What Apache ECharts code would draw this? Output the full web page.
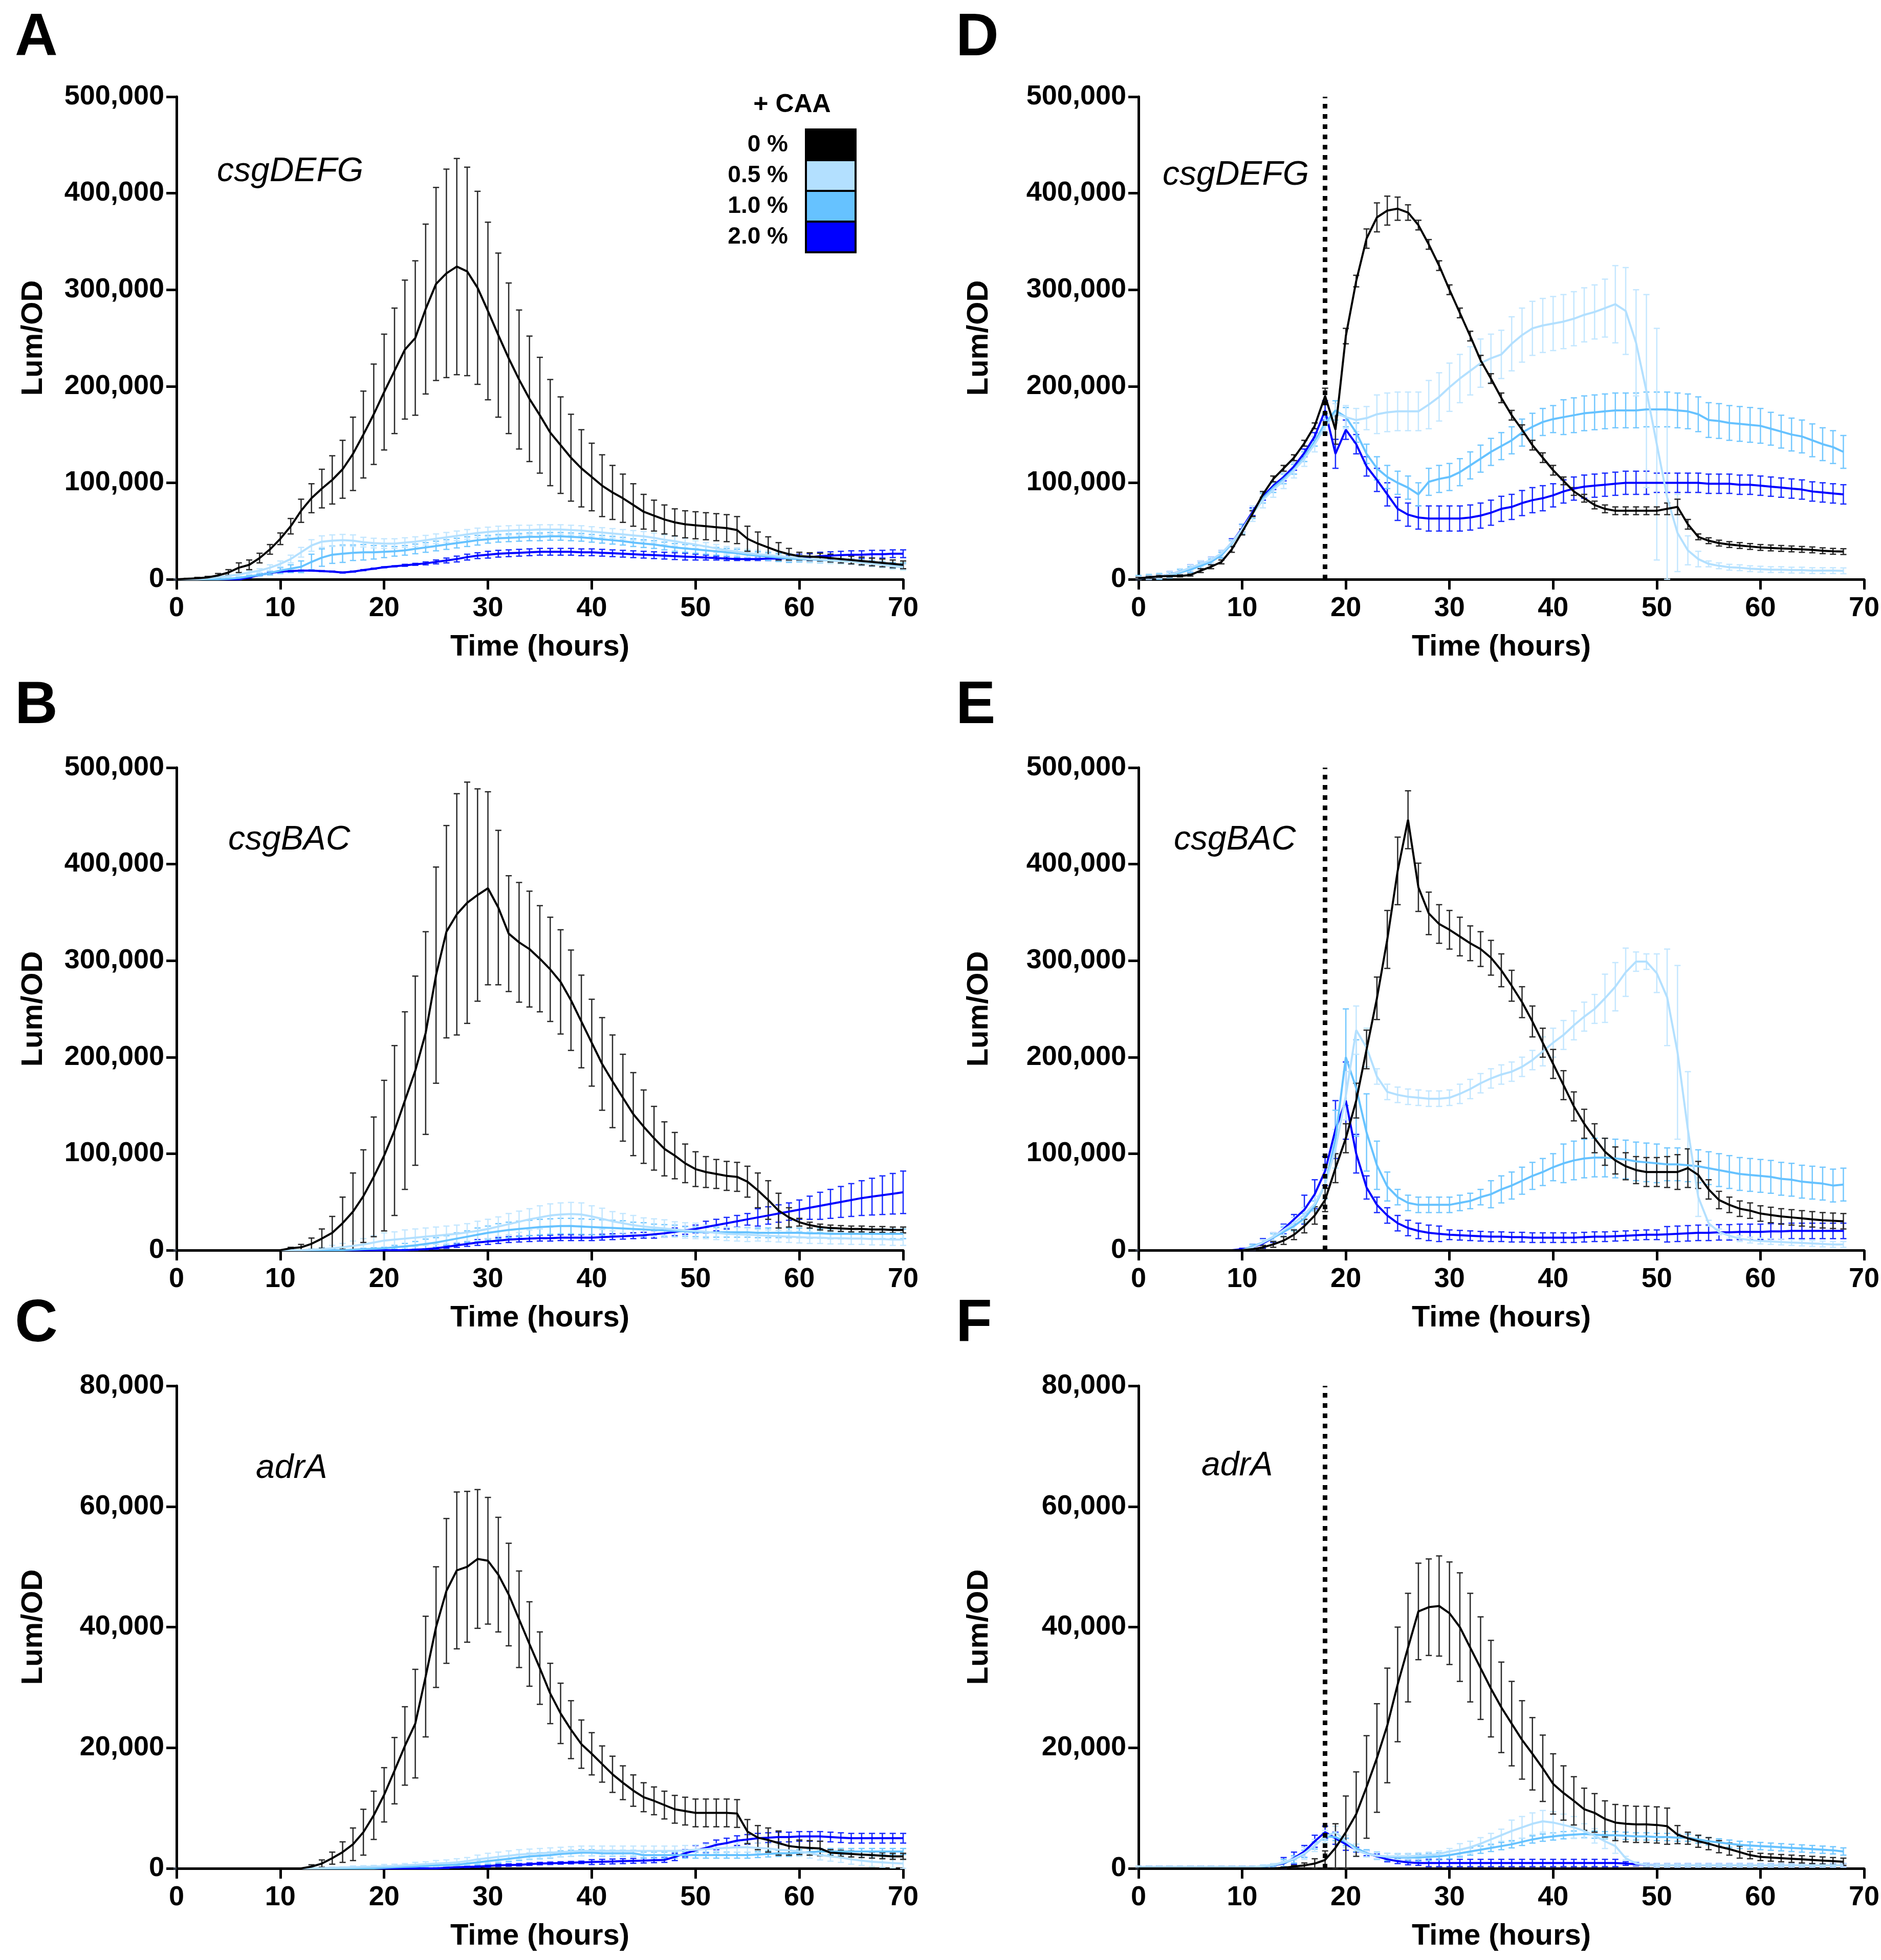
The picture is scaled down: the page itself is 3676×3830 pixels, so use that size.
<!DOCTYPE html>
<html>
<head>
<meta charset="utf-8">
<title>Lum/OD + CAA</title>
<script src="https://cdn.jsdelivr.net/npm/echarts@6.0.0/dist/echarts.min.js"></script>
<style>
html, body { margin: 0; padding: 0; background: #fff; }
#chart { width: 3676px; height: 3830px; }
</style>
</head>
<body>
<div id="chart"></div>
<script>
// time points (hours)
var hoursLeft = [
 0, 1, 2, 3, 4, 5, 6, 7, 8, 9,
 10, 11, 12, 13, 14, 15, 16, 17, 18, 19,
 20, 21, 22, 23, 24, 25, 26, 27, 28, 29,
 30, 31, 32, 33, 34, 35, 36, 37, 38, 39,
 40, 41, 42, 43, 44, 45, 46, 47, 48, 49,
 50, 51, 52, 53, 54, 55, 56, 57, 58, 59,
 60, 61, 62, 63, 64, 65, 66, 67, 68, 69, 70];
var hoursRight = [
 0, 1, 2, 3, 4, 5, 6, 7, 8, 9,
 10, 11, 12, 13, 14, 15, 16, 17, 18, 19,
 20, 21, 22, 23, 24, 25, 26, 27, 28, 29,
 30, 31, 32, 33, 34, 35, 36, 37, 38, 39,
 40, 41, 42, 43, 44, 45, 46, 47, 48, 49,
 50, 51, 52, 53, 54, 55, 56, 57, 58, 59,
 60, 61, 62, 63, 64, 65, 66, 67, 68];

var caaLabels = ['0 %', '0.5 %', '1.0 %', '2.0 %'];
var caaColors = ['#000000', '#b3e0ff', '#66c2ff', '#0000ff'];
var barColors = ['#2a2a2a', '#c4e7ff', '#74c8ff', '#1a2cff'];
var geneNames = ['csgDEFG', 'csgBAC', 'adrA', 'csgDEFG', 'csgBAC', 'adrA'];
var panelLetters = ['A', 'B', 'C', 'D', 'E', 'F'];
var addTime = 18; // dotted line in D-F

// values in thousands of Lum/OD
// ---- A: csgDEFG
var A_0 = [
 0, 0.5, 1, 2, 4, 7, 12, 15, 22, 31,
 42, 55, 71, 84, 94, 103, 114, 130, 150, 171,
 194, 216, 238, 250, 280, 306, 317, 324, 319, 302,
 278, 253, 229, 207, 187, 170, 152, 139, 126, 115,
 106, 97, 90, 84, 77, 70, 66, 62, 59, 57,
 56, 55, 54, 53, 51, 42, 37, 33, 29, 26,
 24, 23.5, 23, 22, 21, 20, 19, 18, 17, 16, 15];
var A_0_sd = [
 0, 0.5, 1, 1, 2, 3, 5, 5, 5, 5,
 6, 8, 12, 15, 20, 25, 30, 38, 45, 52,
 60, 65, 72, 80, 88, 100, 108, 112, 108, 100,
 92, 85, 78, 72, 65, 60, 55, 50, 45, 40,
 35, 32, 28, 25, 22, 18, 16, 15, 14, 14,
 14, 14, 14, 14, 14, 13, 12, 11, 9, 6,
 4, 4, 4, 4, 4, 4, 4, 4, 4, 4, 4];
var A_05 = [
 0, 0, 0, 1, 2, 3.5, 5, 7, 9, 12,
 16, 21, 28, 35, 39, 40, 40.5, 40, 38.5, 37.5,
 37, 37, 38, 39, 40.5, 42, 43.5, 45, 46.5, 48,
 49, 50, 50.5, 51, 51, 51.5, 51.5, 51.5, 51, 50.5,
 49.5, 48.5, 47.5, 46.5, 45.5, 44.5, 43, 41, 39.5, 37.5,
 36, 34, 32, 30, 28.5, 27, 26, 25, 24, 23,
 22, 21, 20.5, 19.5, 19, 18.5, 17, 16, 15, 13.5, 12.5];
var A_05_sd = [
 0, 0, 0, 1, 1, 1, 2, 2, 2, 3,
 3, 4, 5, 6, 6, 6, 6, 6, 5, 5,
 5, 5, 5, 5, 5, 5, 5, 5, 5, 5,
 5, 5, 5, 5, 5, 5, 5, 5, 5, 5,
 5, 5, 5, 5, 5, 5, 5, 5, 5, 5,
 4, 4, 4, 4, 4, 4, 4, 4, 4, 4,
 3, 3, 3, 3, 3, 3, 3, 3, 3, 3, 3];
var A_10 = [
 0, 0, 0, 0, 0, 0.5, 1.5, 3, 4.5, 6.5,
 9, 11, 13, 18, 22.5, 25.5, 26.5, 27.5, 28, 28,
 28.5, 29, 30, 31.5, 33, 34.5, 36, 37.5, 39, 40.5,
 41.5, 42.5, 43, 43.5, 44, 44, 44.5, 44.5, 44, 43.5,
 42.5, 41.5, 40.5, 39.5, 38, 37, 36, 34.5, 33, 32,
 31, 30, 29, 28, 27, 25.5, 24.5, 23.5, 22.5, 21.5,
 21, 20.5, 20, 19.5, 19, 18.5, 17.5, 16.5, 15.5, 14.5, 14];
var A_10_sd = [
 0, 0, 0, 0, 0, 0.5, 1, 1, 1, 2,
 3, 4, 6, 8, 9, 9, 9, 8, 8, 7,
 6, 5, 5, 5, 5, 5, 5, 5, 5, 5,
 4, 4, 4, 4, 4, 4, 4, 4, 4, 4,
 4, 4, 4, 4, 4, 4, 4, 4, 4, 4,
 4, 4, 4, 4, 4, 4, 4, 4, 4, 4,
 3, 3, 3, 3, 3, 3, 3, 3, 3, 3, 3];
var A_20 = [
 0, 0, 0, 0, 0, 0, 0, 2, 4.5, 6.5,
 8, 8.5, 9, 9, 8.5, 8, 7, 8, 9.5, 11,
 12.5, 13.5, 14.5, 15.5, 16.5, 18, 19.5, 21, 23, 24.5,
 25.5, 26.5, 27, 27.5, 28, 28.5, 28.5, 28.5, 28.5, 28,
 28, 27.5, 27, 26.5, 26, 25.5, 25, 24.5, 24, 23.5,
 23, 22.5, 22, 21.5, 21, 21, 21, 21.5, 21.5, 22,
 22.5, 23, 24, 24.5, 25, 25.5, 25.5, 26, 26, 26.5, 26.5];
var A_20_sd = [
 0, 0, 0, 0, 0, 0, 0, 0.5, 0.5, 0.5,
 0.5, 0.5, 0.5, 0.5, 0.5, 0.5, 0.5, 0.5, 0.5, 0.5,
 0.5, 0.5, 1, 1, 1.5, 2, 2.5, 3, 3, 3,
 3.5, 3.5, 3.5, 3.5, 3.5, 3.5, 3.5, 3.5, 3.5, 3.5,
 3.5, 3.5, 3.5, 3.5, 3.5, 3.5, 3.5, 3.5, 3.5, 3.5,
 3, 2.5, 2, 2, 1.5, 1.5, 1.5, 2, 2.5, 3,
 3.5, 3.5, 4, 4, 4, 4, 4, 4, 4, 4, 4];

// ---- B: csgBAC
var B_0 = [
 0, 0, 0, 0, 0, 0, 0, 0, 0, 0,
 0, 2, 3, 6.6, 12, 18, 28, 40, 56, 76,
 98, 124, 155, 186, 225, 285, 330, 348, 360, 368,
 375, 355, 328, 319, 312, 302, 291, 278, 259, 237,
 215, 193, 175, 158, 141, 128, 116, 105, 98, 90,
 84, 81, 79, 77, 76, 71, 62, 52, 41, 34,
 29, 26, 24, 23, 22.5, 22, 22, 21.5, 21.5, 21, 21];
var B_0_sd = [
 0, 0, 0, 0, 0, 0, 0, 0, 0, 0,
 0, 1, 3, 6, 10, 17, 27, 40, 48, 62,
 78, 88, 92, 98, 105, 112, 110, 125, 125, 110,
 100, 80, 60, 62, 60, 55, 54, 54, 52, 48,
 45, 48, 48, 45, 43, 38, 33, 28, 24, 20,
 18, 16, 15, 15, 15, 16, 18, 20, 18, 10,
 4, 3, 3, 3, 3, 3, 3, 3, 3, 3, 3];
var B_05 = [
 0, 0, 0, 0, 0, 0, 0, 0, 0, 0,
 0, 0, 0, 0.5, 1, 2, 3, 4.5, 6, 8,
 10, 11, 12, 13, 14, 15, 16, 17, 18.5, 20,
 22, 24.5, 27, 29.5, 32, 34, 36, 37, 37.5, 37,
 35, 32.5, 30, 28, 26, 24.5, 23.5, 22.5, 21.5, 20.5,
 20, 19, 18, 17, 16.5, 16, 15.5, 15, 14.5, 14,
 13.5, 13, 13, 12.5, 12.5, 12, 12, 11.5, 11.5, 11, 11];
var B_05_sd = [
 0, 0, 0, 0, 0, 0, 0, 0, 0, 0,
 0, 0, 0, 1, 2, 3, 4, 5, 6, 7,
 8, 8, 9, 9, 9, 9, 9, 9, 9, 10,
 10, 10, 11, 11, 11, 12, 12, 12, 12, 12,
 11, 11, 10, 10, 10, 9, 9, 9, 8, 8,
 8, 7, 7, 7, 7, 7, 6, 6, 6, 6,
 6, 6, 6, 6, 6, 6, 6, 6, 6, 6, 6];
var B_10 = [
 0, 0, 0, 0, 0, 0, 0, 0, 0, 0,
 0, 0, 0, 0, 0, 0, 0, 0.5, 1, 1.5,
 2, 3, 4, 5, 6.5, 8, 10, 12, 14, 16,
 18, 19.5, 21, 22, 23, 24, 24.5, 25, 25, 24.5,
 24, 23.5, 23, 22.5, 22, 21.5, 21, 20.5, 20, 19.5,
 19, 18.5, 18.5, 18.5, 18.5, 18.5, 18, 18, 18, 18,
 18, 17.5, 17.5, 17, 17, 17, 17, 17, 17, 17, 17];
var B_10_sd = [
 0, 0, 0, 0, 0, 0, 0, 0, 0, 0,
 0, 0, 0, 0, 0, 0, 0, 0.5, 1, 1,
 1, 2, 3, 4, 5, 5, 5, 6, 6, 7,
 7, 8, 8, 8, 8, 8, 8, 8, 8, 8,
 8, 8, 8, 8, 7, 7, 6, 6, 6, 5,
 5, 5, 5, 5, 5, 5, 5, 5, 5, 5,
 5, 5, 5, 5, 5, 5, 5, 5, 5, 5, 5];
var B_20 = [
 0, 0, 0, 0, 0, 0, 0, 0, 0, 0,
 0, 0, 0, 0, 0, 0, 0, 0, 0, 0,
 0, 0, 0, 0.5, 1, 2, 3.5, 5, 6.5, 8,
 9, 10, 11, 11.5, 12, 12.5, 12.5, 13, 13, 13,
 13, 13.5, 14, 14.5, 15, 15.5, 16.5, 17.5, 19, 20.5,
 22, 24, 26, 28, 30, 32, 34, 36, 38, 40,
 42, 44, 46, 48, 50, 52, 54, 55.5, 57, 58.5, 60];
var B_20_sd = [
 0, 0, 0, 0, 0, 0, 0, 0, 0, 0,
 0, 0, 0, 0, 0, 0, 0, 0, 0, 0,
 0, 0, 0, 0.5, 0.5, 1, 1.5, 2, 2.5, 3,
 3, 3, 3, 3, 3, 3, 3, 3, 3, 3,
 3, 3, 3, 3, 3, 3, 4, 4, 4, 4,
 4, 6, 6, 6, 6, 6, 9, 9, 9, 9,
 10, 12, 14, 15, 16, 17, 18, 19, 20, 21, 22];

// ---- C: adrA
var C_0 = [
 0, 0, 0, 0, 0, 0, 0, 0, 0, 0,
 0, 0, 0, 0.3, 0.8, 1.7, 2.7, 4, 6, 8.8,
 12.2, 16.2, 20.3, 24, 31.8, 40, 46, 49.4, 50, 51.3,
 51, 48.7, 45.4, 41.3, 37.2, 33.2, 29, 25.7, 23, 20.6,
 19, 17.3, 15.6, 14.2, 12.9, 11.8, 11.2, 10.5, 9.8, 9.5,
 9.2, 9.2, 9.2, 9.2, 9.1, 6.1, 5.1, 4.7, 4.2, 3.7,
 3.5, 3.4, 3.3, 2.6, 2.5, 2.4, 2.3, 2.2, 2.1, 2, 2];
var C_0_sd = [
 0, 0, 0, 0, 0, 0, 0, 0, 0, 0,
 0, 0, 0, 0.3, 0.6, 1, 1.7, 2.7, 3.8, 4,
 4.5, 5.5, 6.5, 9, 10, 10, 12, 13, 12.5, 11.5,
 10.5, 9.5, 8.5, 8, 7, 6, 5, 5, 4.8, 4,
 3.5, 3, 3, 2.8, 2.6, 2.4, 2.3, 2.3, 2.3, 2.3,
 2.3, 2.3, 2.3, 2.3, 2.3, 2, 2, 2, 2, 1.5,
 1.2, 1.2, 1.2, 0.5, 0.5, 0.5, 0.5, 0.5, 0.5, 0.5, 0.5];
var C_05 = [
 0, 0, 0, 0, 0, 0, 0, 0, 0, 0,
 0, 0, 0, 0, 0.05, 0.1, 0.15, 0.2, 0.25, 0.3,
 0.35, 0.4, 0.5, 0.6, 0.7, 0.8, 0.9, 1, 1.2, 1.5,
 1.7, 1.9, 2.1, 2.3, 2.4, 2.5, 2.6, 2.7, 2.8, 2.9,
 2.9, 2.9, 2.9, 2.9, 2.9, 2.9, 2.9, 2.9, 2.9, 3,
 3.1, 3.2, 3.3, 3.4, 3.5, 3.5, 3.4, 3.3, 3.1, 3,
 2.8, 2.5, 2.2, 2, 1.8, 1.5, 1.3, 1.1, 1, 0.9, 0.8];
var C_05_sd = [
 0, 0, 0, 0, 0, 0, 0, 0, 0, 0,
 0, 0, 0, 0, 0.1, 0.1, 0.1, 0.2, 0.2, 0.2,
 0.3, 0.3, 0.3, 0.4, 0.4, 0.5, 0.5, 0.6, 0.6, 0.7,
 0.8, 0.8, 0.8, 0.8, 0.8, 0.8, 0.8, 0.8, 0.8, 0.8,
 0.8, 0.8, 0.8, 0.8, 0.8, 0.8, 0.8, 0.8, 0.8, 0.8,
 0.8, 0.8, 0.8, 0.8, 0.8, 0.8, 0.8, 0.8, 0.8, 0.8,
 0.8, 0.8, 0.8, 0.8, 0.8, 0.8, 0.8, 0.8, 0.8, 0.8, 0.8];
var C_10 = [
 0, 0, 0, 0, 0, 0, 0, 0, 0, 0,
 0, 0, 0, 0, 0, 0, 0, 0, 0, 0,
 0.1, 0.2, 0.25, 0.3, 0.4, 0.5, 0.55, 0.6, 0.8, 1,
 1.2, 1.4, 1.6, 1.8, 2, 2.1, 2.2, 2.4, 2.5, 2.6,
 2.6, 2.5, 2.5, 2.5, 2.5, 2.2, 2.2, 2.2, 2.2, 2.2,
 2.2, 2.2, 2.2, 2.2, 2.2, 2.2, 2.3, 2.4, 2.5, 2.5,
 2.6, 2.7, 2.8, 2.8, 2.8, 2.8, 2.8, 2.8, 2.8, 2.8, 2.8];
var C_10_sd = [
 0, 0, 0, 0, 0, 0, 0, 0, 0, 0,
 0, 0, 0, 0, 0, 0, 0, 0, 0, 0,
 0.1, 0.1, 0.2, 0.2, 0.2, 0.3, 0.3, 0.3, 0.4, 0.4,
 0.5, 0.5, 0.5, 0.5, 0.5, 0.5, 0.5, 0.5, 0.5, 0.5,
 0.5, 0.5, 0.5, 0.5, 0.5, 0.5, 0.5, 0.5, 0.5, 0.5,
 0.5, 0.5, 0.5, 0.5, 0.5, 0.5, 0.5, 0.5, 0.5, 0.5,
 0.5, 0.5, 0.5, 0.5, 0.5, 0.5, 0.5, 0.5, 0.5, 0.5, 0.5];
var C_20 = [
 0, 0, 0, 0, 0, 0, 0, 0, 0, 0,
 0, 0, 0, 0, 0, 0, 0, 0, 0, 0,
 0, 0, 0, 0, 0, 0, 0.1, 0.2, 0.25, 0.3,
 0.4, 0.5, 0.55, 0.6, 0.7, 0.8, 0.85, 0.9, 0.95, 1,
 1.05, 1.1, 1.15, 1.2, 1.25, 1.3, 1.35, 1.4, 1.9, 2.5,
 3, 3.4, 3.9, 4.2, 4.6, 4.8, 5, 5.1, 5.2, 5.2,
 5.3, 5.3, 5.3, 5.2, 5.1, 5, 5, 5, 5, 5, 5];
var C_20_sd = [
 0, 0, 0, 0, 0, 0, 0, 0, 0, 0,
 0, 0, 0, 0, 0, 0, 0, 0, 0, 0,
 0, 0, 0, 0, 0, 0, 0.1, 0.1, 0.1, 0.1,
 0.2, 0.2, 0.2, 0.2, 0.2, 0.2, 0.2, 0.2, 0.2, 0.2,
 0.4, 0.4, 0.4, 0.4, 0.4, 0.4, 0.4, 0.4, 0.6, 0.6,
 0.8, 0.8, 0.8, 0.8, 0.8, 0.8, 0.8, 0.8, 0.8, 0.8,
 0.8, 0.8, 0.8, 0.8, 0.8, 0.8, 0.8, 0.8, 0.8, 0.8, 0.8];

// ---- D: csgDEFG, CAA added at 18 h
var D_0 = [
 1, 2, 3, 3.5, 3.5, 4.4, 9, 13, 18, 31,
 49, 68, 88, 104, 115, 126, 141, 159, 190, 155,
 252, 309, 353, 375, 382, 384, 380, 367, 347, 325,
 300, 276, 252, 227, 208, 188, 170, 155, 139, 126,
 113, 102, 91, 84, 77, 73, 71, 71, 71, 71,
 71, 73, 75, 57, 44, 40, 37.5, 36, 35, 34,
 33, 32.5, 32, 31.5, 31, 30.5, 29.6, 29, 28.7];
var D_0_sd = [
 1, 1, 1, 1, 1, 1, 2, 2, 2, 3,
 3, 3, 3, 3, 3, 3, 3, 3, 8, 15,
 8, 6, 10, 15, 15, 12, 8, 5, 5, 5,
 5, 5, 5, 5, 5, 5, 5, 5, 5, 5,
 5, 4, 4, 4, 4, 4, 4, 4, 4, 4,
 4, 6, 8, 5, 3, 3, 3, 3, 3, 3,
 3, 3, 3, 3, 3, 3, 3, 3, 3];
var D_05 = [
 1, 2, 3, 5, 8, 12, 16, 20, 27, 38,
 52, 68, 82, 93, 102, 113, 125, 140, 158, 172,
 168, 165, 167, 171, 173, 174, 174, 174, 181, 189,
 199, 208, 216, 224, 229, 233, 244, 253, 260, 263,
 265, 267, 270, 274, 277, 281, 285, 278, 245, 195,
 140, 85, 48, 30, 21, 16, 14, 12.5, 12, 11,
 10.5, 10, 10, 9.5, 9.5, 9, 9, 9, 8.8];
var D_05_sd = [
 2, 2, 2, 3, 3, 3, 3, 3, 3, 3,
 3, 8, 8, 8, 8, 8, 8, 8, 8, 10,
 12, 12, 12, 20, 20, 20, 20, 20, 25, 25,
 25, 25, 25, 25, 25, 25, 28, 28, 28, 28,
 28, 28, 28, 28, 28, 30, 40, 45, 55, 100,
 120, 90, 40, 15, 8, 3, 3, 3, 3, 3,
 3, 3, 3, 3, 3, 3, 3, 3, 3];
var D_10 = [
 1, 2, 3, 4.5, 7, 10, 14, 18, 25, 37,
 52, 68, 84, 95, 104, 114, 127, 143, 162, 175,
 168, 152, 130, 115, 106, 100, 95, 88, 101, 104,
 106, 111, 118, 125, 132, 138, 144, 152, 158, 163,
 166, 168, 170, 172, 173, 174, 175, 175, 175, 176,
 176, 176, 175, 174, 171, 165, 164, 162, 161, 160,
 159, 156, 153, 150, 148, 144, 140, 137, 132];
var D_10_sd = [
 3, 3, 3, 3, 3, 3, 3, 3, 3, 3,
 5, 5, 5, 5, 5, 5, 5, 5, 10, 10,
 10, 10, 10, 12, 12, 12, 12, 12, 14, 14,
 14, 14, 14, 14, 14, 14, 14, 14, 14, 14,
 14, 18, 18, 18, 18, 18, 18, 18, 18, 18,
 18, 18, 18, 18, 18, 18, 18, 18, 18, 18,
 18, 17, 17, 17, 17, 17, 17, 17, 17];
var D_20 = [
 1, 2, 3, 5, 8, 11, 15, 19, 26, 38,
 53, 70, 86, 97, 106, 117, 131, 148, 175, 130,
 155, 140, 117, 103, 88, 73, 67, 64, 63, 63,
 63, 63, 64, 66, 69, 73, 75, 79, 82, 84,
 87, 91, 94, 96, 97, 98, 99, 100, 100, 100,
 100, 100, 100, 100, 100, 99, 99, 99, 98, 98,
 97, 96, 95, 94, 93, 91, 90, 89, 88];
var D_20_sd = [
 2, 2, 2, 3, 3, 4, 4, 4, 4, 4,
 4, 4, 4, 4, 4, 4, 4, 4, 10, 15,
 10, 10, 10, 12, 12, 12, 12, 12, 13, 13,
 13, 13, 13, 13, 13, 13, 13, 13, 13, 13,
 12, 12, 12, 12, 12, 12, 12, 12, 12, 12,
 10, 10, 10, 10, 10, 10, 10, 10, 10, 10,
 10, 10, 10, 10, 10, 10, 10, 10, 10];

// ---- E: csgBAC, CAA added at 18 h
var E_0 = [
 0, 0, 0, 0, 0, 0, 0, 0, 0, 0,
 0, 1, 3, 6, 10, 16, 25, 36, 52, 85,
 116, 155, 208, 261, 322, 393, 446, 376, 349, 338,
 332, 325, 318, 312, 303, 290, 274, 257, 237, 215,
 193, 171, 149, 131, 116, 102, 93, 87, 83, 81,
 81, 81, 81, 85, 78, 63, 52, 47, 43, 41,
 38, 36.5, 35, 34, 33, 32, 31, 30.5, 30];
var E_0_sd = [
 0, 0, 0, 0, 0, 0, 0, 0, 0, 0,
 0, 1, 2, 3, 4, 5, 7, 9, 12, 15,
 15, 18, 20, 22, 30, 35, 30, 25, 22, 20,
 20, 20, 18, 18, 18, 17, 16, 16, 16, 15,
 15, 15, 15, 15, 15, 14, 14, 14, 14, 15,
 15, 16, 18, 20, 14, 10, 9, 8, 8, 8,
 8, 8, 8, 8, 8, 8, 8, 8, 8];
var E_05 = [
 0, 0, 0, 0, 0, 0, 0, 0, 0, 0,
 0, 3, 8, 14, 21, 28, 37, 48, 68, 105,
 160, 228, 210, 180, 164, 161, 159, 158, 157, 157,
 158, 162, 167, 173, 178, 182, 185, 190, 197, 206,
 215, 223, 233, 242, 250, 261, 273, 288, 299, 299,
 287, 262, 205, 125, 55, 28, 19, 15, 12, 10.5,
 9.5, 9, 8.5, 8, 7.5, 7, 6.5, 6, 6];
var E_05_sd = [
 0, 0, 0, 0, 0, 0, 0, 0, 0, 0,
 0, 2, 3, 4, 5, 6, 7, 8, 15, 20,
 25, 25, 20, 8, 8, 8, 8, 8, 8, 8,
 8, 10, 10, 10, 10, 10, 10, 10, 10, 15,
 15, 15, 15, 15, 15, 25, 25, 25, 10, 8,
 20, 50, 90, 60, 20, 3, 3, 3, 3, 3,
 3, 3, 3, 3, 3, 3, 3, 3, 3];
var E_10 = [
 0, 0, 0, 0, 0, 0, 0, 0, 0, 0,
 0, 4, 8, 13, 19, 25, 33, 46, 68, 115,
 200, 168, 122, 88, 66, 55, 49, 47, 47, 47,
 47, 49, 51, 55, 58, 63, 67, 72, 77, 81,
 86, 90, 93, 95, 96, 96, 95, 94, 92, 91,
 90, 89, 89, 88, 87, 85, 83, 81, 79, 78,
 77, 76, 74, 73, 71, 70, 69, 67, 68];
var E_10_sd = [
 0, 0, 0, 0, 0, 0, 0, 0, 0, 0,
 0, 2, 3, 4, 5, 5, 5, 5, 15, 30,
 50, 50, 40, 25, 15, 8, 8, 8, 8, 8,
 8, 8, 8, 8, 14, 14, 14, 14, 14, 14,
 14, 20, 20, 20, 20, 20, 20, 20, 20, 20,
 20, 17, 17, 17, 17, 17, 17, 17, 17, 17,
 17, 17, 17, 17, 17, 17, 17, 17, 17];
var E_20 = [
 0, 0, 0, 0, 0, 0, 0, 0, 0, 0,
 1, 3, 7, 13, 22, 32, 42, 58, 82, 125,
 155, 100, 65, 47, 36, 28, 23, 20, 18, 17,
 16, 15.5, 15, 14.5, 14, 14, 13.5, 13.5, 13, 13,
 13, 13, 13, 13.5, 14, 14, 14.5, 15, 15.5, 16,
 16, 16.5, 17, 17.5, 18, 18, 18.5, 18.5, 19, 19,
 19, 19.5, 19.5, 20, 20, 20, 20, 20, 20];
var E_20_sd = [
 0, 0, 0, 0, 0, 0, 0, 0, 0, 0,
 1, 3, 5, 5, 5, 5, 15, 15, 15, 30,
 40, 20, 12, 8, 8, 8, 8, 8, 8, 8,
 5, 5, 5, 5, 5, 5, 5, 5, 5, 5,
 5, 5, 5, 5, 5, 5, 5, 5, 5, 5,
 5, 8, 8, 8, 8, 8, 8, 8, 8, 8,
 8, 8, 8, 8, 8, 8, 8, 8, 8];

// ---- F: adrA, CAA added at 18 h
var F_0 = [
 0, 0, 0, 0, 0, 0, 0, 0, 0, 0,
 0, 0, 0, 0, 0.1, 0.3, 0.5, 0.8, 1.4, 3.4,
 6, 9, 13.5, 18.3, 23.7, 30.5, 36.6, 42.6, 43.3, 43.5,
 42.3, 40, 36.6, 33.2, 29.8, 26.7, 24, 21.3, 19, 16.6,
 14, 12.5, 11.2, 9.8, 9.2, 8.2, 7.6, 7.4, 7.3, 7.3,
 7.2, 7, 5.6, 5, 4.5, 4.1, 3.6, 3.2, 2.7, 2.2,
 1.9, 1.8, 1.7, 1.6, 1.5, 1.4, 1.3, 1.2, 1.1];
var F_0_sd = [
 0, 0, 0, 0, 0, 0, 0, 0, 0, 0,
 0, 0, 0, 0, 0.1, 0.2, 0.4, 0.8, 1.5, 4,
 6, 7, 8.5, 9, 9.5, 9.5, 9, 8, 8, 8.3,
 8.5, 9, 9, 8.5, 8, 7.5, 7, 6.5, 6, 5.5,
 5, 4.5, 4, 3.5, 3.2, 3, 3, 3, 3, 3,
 3, 3, 1.5, 1, 1, 1, 1, 1, 1, 0.6,
 0.6, 0.6, 0.6, 0.6, 0.6, 0.6, 0.6, 0.6, 0.6];
var F_05 = [
 0.2, 0.2, 0.2, 0.2, 0.2, 0.2, 0.2, 0.2, 0.2, 0.2,
 0.2, 0.2, 0.4, 0.6, 1, 1.6, 2.5, 3.8, 5.3, 6,
 4.5, 3, 2.4, 2.1, 2, 2, 2, 2.1, 2.2, 2.4,
 2.8, 3.1, 3.5, 4.1, 4.8, 5.5, 6.2, 6.8, 7.4, 7.8,
 7.6, 7.2, 6.8, 6.2, 5.4, 4.5, 3.7, 1.7, 0.8, 0.6,
 0.5, 0.5, 0.5, 0.5, 0.5, 0.5, 0.5, 0.5, 0.5, 0.5,
 0.5, 0.5, 0.5, 0.5, 0.5, 0.5, 0.5, 0.5, 0.5];
var F_05_sd = [
 0.2, 0.2, 0.2, 0.2, 0.2, 0.2, 0.2, 0.2, 0.2, 0.2,
 0.2, 0.2, 0.2, 0.2, 0.2, 0.2, 1, 1, 1, 1,
 1, 1, 0.5, 0.5, 0.5, 0.5, 0.5, 0.5, 0.5, 0.5,
 0.5, 1, 1, 1, 1, 1, 1.8, 1.8, 1.8, 1.8,
 1.8, 1.8, 1.8, 1.2, 1.2, 1.2, 1.2, 0.3, 0.3, 0.3,
 0.3, 0.3, 0.3, 0.3, 0.3, 0.3, 0.3, 0.3, 0.3, 0.3,
 0.3, 0.3, 0.3, 0.3, 0.3, 0.3, 0.3, 0.3, 0.3];
var F_10 = [
 0.2, 0.2, 0.2, 0.2, 0.2, 0.2, 0.2, 0.2, 0.2, 0.2,
 0.2, 0.2, 0.3, 0.5, 0.9, 1.5, 2.4, 3.8, 5.3, 5.2,
 4.4, 3.4, 2.5, 2.1, 1.9, 1.8, 1.8, 1.8, 1.9, 2,
 2.2, 2.5, 2.8, 3.1, 3.4, 3.7, 4, 4.4, 4.8, 5.1,
 5.3, 5.5, 5.6, 5.7, 5.6, 5.5, 5.5, 5.4, 5.3, 5.3,
 5.2, 5.2, 5.1, 5.1, 4.8, 4.5, 4.3, 4.1, 3.9, 3.8,
 3.7, 3.6, 3.5, 3.4, 3.3, 3.2, 3.1, 3, 2.8];
var F_10_sd = [
 0.2, 0.2, 0.2, 0.2, 0.2, 0.2, 0.2, 0.2, 0.2, 0.2,
 0.2, 0.2, 0.2, 0.2, 0.6, 0.6, 0.6, 0.6, 0.6, 0.6,
 0.6, 0.6, 0.6, 0.6, 0.6, 0.6, 0.6, 0.6, 0.6, 0.6,
 0.6, 0.6, 0.6, 0.6, 0.6, 0.6, 0.6, 0.6, 0.6, 0.6,
 0.6, 0.6, 0.6, 0.6, 0.6, 0.6, 0.6, 0.6, 0.6, 0.6,
 0.6, 0.6, 0.6, 0.6, 0.6, 0.6, 0.6, 0.6, 0.6, 0.6,
 0.6, 0.6, 0.6, 0.6, 0.6, 0.6, 0.6, 0.6, 0.6];
var F_20 = [
 0.2, 0.2, 0.2, 0.2, 0.2, 0.2, 0.2, 0.2, 0.2, 0.2,
 0.2, 0.2, 0.3, 0.5, 0.8, 1.7, 2.8, 4.5, 6, 5,
 4, 3.1, 2.5, 2, 1.5, 1.2, 1, 0.9, 0.9, 0.9,
 0.9, 0.9, 0.9, 0.9, 0.9, 0.9, 0.9, 0.9, 0.9, 0.9,
 0.9, 0.9, 0.9, 0.9, 0.9, 0.9, 0.9, 0.8, 0.7, 0.6,
 0.5, 0.5, 0.5, 0.5, 0.5, 0.5, 0.5, 0.5, 0.5, 0.5,
 0.5, 0.5, 0.5, 0.5, 0.5, 0.5, 0.5, 0.5, 0.5];
var F_20_sd = [
 0.2, 0.2, 0.2, 0.2, 0.2, 0.2, 0.2, 0.2, 0.2, 0.2,
 0.2, 0.2, 0.2, 0.2, 1, 1, 1, 1, 1, 1,
 1, 0.4, 0.4, 0.4, 0.4, 0.4, 0.4, 0.4, 0.6, 0.6,
 0.6, 0.6, 0.6, 0.6, 0.6, 0.6, 0.6, 0.6, 0.6, 0.6,
 0.6, 0.6, 0.6, 0.6, 0.6, 0.6, 0.6, 0.3, 0.3, 0.3,
 0.3, 0.3, 0.3, 0.3, 0.3, 0.3, 0.3, 0.3, 0.3, 0.3,
 0.3, 0.3, 0.3, 0.3, 0.3, 0.3, 0.3, 0.3, 0.3];

// axis limits per panel
var yMax = [500000, 500000, 80000, 500000, 500000, 80000];
var yStep = [100000, 100000, 20000, 100000, 100000, 20000];

var panels = [
  { hours: hoursLeft,  means: [A_0, A_05, A_10, A_20], sds: [A_0_sd, A_05_sd, A_10_sd, A_20_sd] },
  { hours: hoursLeft,  means: [B_0, B_05, B_10, B_20], sds: [B_0_sd, B_05_sd, B_10_sd, B_20_sd] },
  { hours: hoursLeft,  means: [C_0, C_05, C_10, C_20], sds: [C_0_sd, C_05_sd, C_10_sd, C_20_sd] },
  { hours: hoursRight, means: [D_0, D_05, D_10, D_20], sds: [D_0_sd, D_05_sd, D_10_sd, D_20_sd] },
  { hours: hoursRight, means: [E_0, E_05, E_10, E_20], sds: [E_0_sd, E_05_sd, E_10_sd, E_20_sd] },
  { hours: hoursRight, means: [F_0, F_05, F_10, F_20], sds: [F_0_sd, F_05_sd, F_10_sd, F_20_sd] }
];

// layout
var FONT = '"Liberation Sans", Arial, Helvetica, sans-serif';
var colLeft = [345, 2225];
var rowTop = [189, 1500, 2708];
var gridW = 1420, gridH = 943;

var chart = echarts.init(document.getElementById('chart'), null, { renderer: 'canvas', width: 3676, height: 3830 });

function renderBar(params, api) {
  var t = api.value(0), m = api.value(1), s = api.value(2);
  var hi = api.coord([t, m + s]);
  var lo = api.coord([t, Math.max(m - s, 0)]);
  var st = { stroke: api.visual('color'), lineWidth: 2.5, fill: null };
  var w = 6;
  return {
    type: 'group',
    children: [
      { type: 'line', shape: { x1: hi[0], y1: hi[1], x2: lo[0], y2: lo[1] }, style: st },
      { type: 'line', shape: { x1: hi[0] - w, y1: hi[1], x2: hi[0] + w, y2: hi[1] }, style: st },
      { type: 'line', shape: { x1: lo[0] - w, y1: lo[1], x2: lo[0] + w, y2: lo[1] }, style: st }
    ]
  };
}

var grids = [], xAxes = [], yAxes = [], series = [], graphics = [];
var axisLineStyle = { color: '#000', width: 5 };
var labelStyle = { fontSize: 54, fontWeight: 'bold', color: '#000', fontFamily: FONT };
var nameStyle = { fontSize: 58, fontWeight: 'bold', color: '#000', fontFamily: FONT };

panels.forEach(function (p, i) {
  var col = i < 3 ? 0 : 1, row = i % 3;
  grids.push({ left: colLeft[col], top: rowTop[row], width: gridW, height: gridH, show: false });
  xAxes.push({
    type: 'value', gridIndex: i, min: 0, max: 70, interval: 10,
    axisLine: { show: true, onZero: false, lineStyle: axisLineStyle },
    axisTick: { show: true, length: 20, lineStyle: axisLineStyle },
    axisLabel: Object.assign({ margin: 30 }, labelStyle),
    splitLine: { show: false },
    name: 'Time (hours)', nameLocation: 'middle', nameGap: 104, nameTextStyle: nameStyle
  });
  yAxes.push({
    type: 'value', gridIndex: i, min: 0, max: yMax[i], interval: yStep[i],
    axisLine: { show: true, onZero: false, lineStyle: axisLineStyle },
    axisTick: { show: true, length: 20, lineStyle: axisLineStyle },
    axisLabel: Object.assign({ margin: 24, formatter: function (v) { return v.toLocaleString('en-US'); } }, labelStyle),
    splitLine: { show: false },
    name: 'Lum/OD', nameLocation: 'middle', nameRotate: 90, nameGap: col === 0 ? 250 : 282, nameTextStyle: nameStyle
  });

  // draw 2.0 % first so that 0 % ends on top
  [3, 2, 1, 0].forEach(function (c) {
    var mean = p.means[c], sd = p.sds[c];
    series.push({
      type: 'custom', xAxisIndex: i, yAxisIndex: i, silent: true,
      itemStyle: { color: barColors[c] },
      renderItem: renderBar,
      data: p.hours.map(function (t, k) { return [t, mean[k] * 1000, sd[k] * 1000]; })
    });
    var line = {
      type: 'line', xAxisIndex: i, yAxisIndex: i, silent: true,
      showSymbol: false, symbol: 'none',
      lineStyle: { color: caaColors[c], width: 4 },
      itemStyle: { color: caaColors[c] },
      data: p.hours.map(function (t, k) { return [t, mean[k] * 1000]; })
    };
    if (c === 0 && col === 1) {
      line.markLine = {
        silent: true, symbol: 'none', label: { show: false },
        lineStyle: { color: '#000', width: 9, type: [9, 11], cap: 'butt' },
        data: [{ xAxis: addTime }]
      };
    }
    series.push(line);
  });
});

// panel letters and gene names
var letterPos = [[29, 76], [29, 1381], [29, 2589], [1868, 76], [1868, 1381], [1868, 2589]];
var genePos = [[424, 336], [446, 1642], [500, 2870], [2272, 343], [2294, 1642], [2348, 2865]];
panelLetters.forEach(function (L, i) {
  graphics.push({
    type: 'text', x: letterPos[i][0], y: letterPos[i][1], silent: true,
    style: { text: L, font: 'bold 116px ' + FONT, fill: '#000', textAlign: 'left', textVerticalAlign: 'middle', align: 'left', verticalAlign: 'middle' }
  });
  graphics.push({
    type: 'text', x: genePos[i][0], y: genePos[i][1], silent: true,
    style: { text: geneNames[i], font: 'italic 66px ' + FONT, fill: '#000', textAlign: 'left', textVerticalAlign: 'middle', align: 'left', verticalAlign: 'middle' }
  });
});

// CAA key
graphics.push({
  type: 'text', x: 1548, y: 205, silent: true,
  style: { text: '+ CAA', font: 'bold 50px ' + FONT, fill: '#000', textAlign: 'center', textVerticalAlign: 'middle', align: 'center', verticalAlign: 'middle' }
});
var keyTop = 253, keyH = 60;
caaLabels.forEach(function (lab, c) {
  graphics.push({
    type: 'rect', silent: true,
    shape: { x: 1575, y: keyTop + c * keyH, width: 97, height: keyH },
    style: { fill: caaColors[c], stroke: '#000', lineWidth: 4 }
  });
  graphics.push({
    type: 'text', x: 1540, y: keyTop + c * keyH + keyH / 2, silent: true,
    style: { text: lab, font: 'bold 46px ' + FONT, fill: '#000', textAlign: 'right', textVerticalAlign: 'middle', align: 'right', verticalAlign: 'middle' }
  });
});

chart.setOption({
  animation: false,
  backgroundColor: '#fff',
  textStyle: { fontFamily: FONT },
  grid: grids,
  xAxis: xAxes,
  yAxis: yAxes,
  series: series,
  graphic: { elements: graphics }
});
</script>
</body>
</html>
